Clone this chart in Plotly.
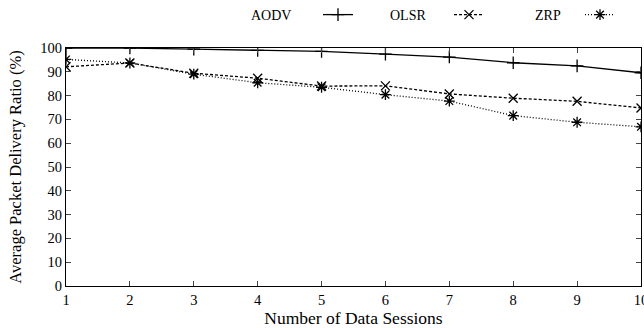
import plotly.graph_objects as go

sessions = [1, 2, 3, 4, 5, 6, 7, 8, 9, 10]
aodv = [100, 100, 99.5, 99.0, 98.6, 97.4, 96.2, 93.8, 92.5, 89.6]
olsr = [92.1, 93.7, 89.4, 87.3, 84.0, 84.1, 80.7, 78.9, 77.6, 74.8]
zrp = [95.2, 93.7, 89.0, 85.4, 83.5, 80.4, 77.7, 71.6, 68.8, 66.9]
series_names = ["AODV", "OLSR", "ZRP"]

FONT = "Liberation Serif"
W, H = 644, 328
L, R, T, B = 66, 3, 48, 42
pw, ph = W - L - R, H - T - B

fig = go.Figure()
styles = [
    dict(dash="solid", symbol="cross-thin"),
    dict(dash="3px,2px", symbol="x-thin"),
    dict(dash="1px,2px", symbol="asterisk"),
]
for name, vals, st in zip(series_names, [aodv, olsr, zrp], styles):
    fig.add_trace(go.Scatter(
        x=sessions, y=vals, name="", mode="lines+markers",
        line=dict(color="black", width=1.3, dash=st["dash"]),
        marker=dict(symbol=st["symbol"], size=9, color="black",
                    line=dict(color="black", width=1.3)),
        hovertext=name,
    ))

# legend labels (text sits left of each sample, as in the reference)
label_px = [271, 408, 548]
for nm, lx in zip(series_names, label_px):
    fig.add_annotation(text=nm, x=(lx - L) / pw, y=(H - 15 - B) / ph,
                       xref="paper", yref="paper", xanchor="center", yanchor="middle",
                       showarrow=False, font=dict(family=FONT, size=14, color="black"))

fig.update_layout(
    width=W, height=H,
    margin=dict(l=L, r=R, t=T, b=B, autoexpand=False),
    paper_bgcolor="white", plot_bgcolor="white",
    font=dict(family=FONT, size=14, color="black"),
    showlegend=True,
    legend=dict(orientation="h", x=(318 - L) / pw, y=(H - 15 - B) / ph,
                xanchor="left", yanchor="middle",
                entrywidth=86, font=dict(family=FONT, size=14),
                bgcolor="rgba(0,0,0,0)", itemwidth=30, tracegroupgap=0),
    xaxis=dict(range=[1, 10], tickmode="array", tickvals=sessions, automargin=False,
               ticks="inside", ticklen=5, tickwidth=1, mirror="ticks",
               ticklabeloverflow="allow",
               showline=True, linecolor="black", linewidth=1.3, showgrid=False,
               zeroline=False, tickfont=dict(family=FONT, size=14.5),
               title=dict(text="Number of Data Sessions", standoff=0,
                          font=dict(family=FONT, size=17.5))),
    yaxis=dict(range=[0, 100], tickmode="array", tickvals=list(range(0, 101, 10)),
               automargin=False, ticklabeloverflow="allow",
               ticks="inside", ticklen=5, tickwidth=1, mirror="ticks",
               showline=True, linecolor="black", linewidth=1.3, showgrid=False,
               zeroline=False, tickfont=dict(family=FONT, size=14.5),
               title=dict(text="Average Packet Delivery Ratio (%)", standoff=14,
                          font=dict(family=FONT, size=16.5))),
)
fig.write_html("out.html", config={"displayModeBar": False},
               post_script="document.body.style.margin='0';")
